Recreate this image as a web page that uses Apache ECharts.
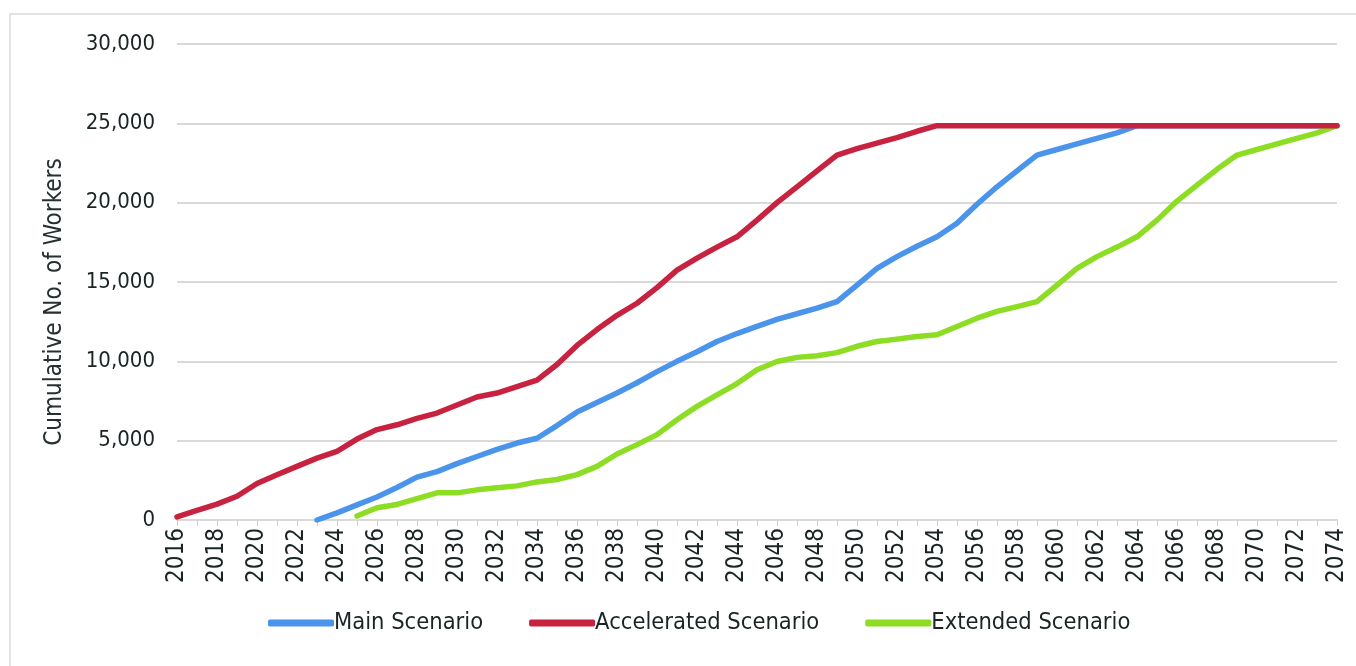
<!DOCTYPE html>
<html>
<head>
<meta charset="utf-8">
<title>Cumulative No. of Workers</title>
<script src="https://cdn.jsdelivr.net/npm/echarts@6/dist/echarts.min.js"></script>
<style>
  html, body { margin: 0; padding: 0; background: #fff; }
  #chart { width: 1356px; height: 666px; }
</style>
</head>
<body>
<div id="chart"></div>
<script>
// years on the x axis, 2016 - 2074
const years = []
for (let y = 2016; y <= 2074; y++) years.push(String(y))

const yTicks = [0, 5000, 10000, 15000, 20000, 25000, 30000]

// Main Scenario starts in 2023
const mainScenario = [
  null, null, null, null, null, null, null,
  0, 450, 950, 1450, 2050, 2700, 3050, 3550, 4000, 4450,
  4850, 5150, 5950, 6800, 7400, 8000, 8650, 9350, 10000, 10600,
  11250, 11750, 12200, 12650, 13000, 13350, 13760, 14800, 15860, 16600,
  17250, 17850, 18700, 19900, 21000, 22000, 23000, 23350, 23700, 24050,
  24400, 24850, 24850, 24850, 24850, 24850, 24850, 24850, 24850, 24850,
  24850, 24850
]

// Accelerated Scenario starts in 2016
const acceleratedScenario = [
  200, 600, 1000, 1500, 2300, 2850, 3380, 3900, 4330, 5100,
  5700, 6000, 6400, 6740, 7250, 7750, 8000, 8400, 8820, 9800,
  11000, 12000, 12900, 13660, 14650, 15750, 16500, 17200, 17850, 18900,
  20000, 21000, 22000, 23000, 23400, 23750, 24100, 24500, 24850, 24850,
  24850, 24850, 24850, 24850, 24850, 24850, 24850, 24850, 24850, 24850,
  24850, 24850, 24850, 24850, 24850, 24850, 24850, 24850, 24850
]

// Extended Scenario starts in 2025
const extendedScenario = [
  null, null, null, null, null, null, null, null, null,
  250, 770, 980, 1350, 1710, 1710, 1900, 2030, 2150, 2400,
  2550, 2860, 3380, 4160, 4750, 5380, 6320, 7160, 7890, 8600,
  9470, 9990, 10250, 10350, 10550, 10950, 11250, 11400, 11560, 11670,
  12200, 12720, 13150, 13450, 13760, 14800, 15860, 16600, 17200, 17850,
  18900, 20100, 21100, 22100, 23000, 23350, 23700, 24050, 24400, 24850
]

const seriesNames = ['Main Scenario', 'Accelerated Scenario', 'Extended Scenario']
const seriesColors = ['#4a94ec', '#c7223f', '#8ddd24']

const FONT = "'DejaVu Sans Condensed', 'Liberation Sans', sans-serif"
const TEXT_COLOR = '#1a2424'

const chart = echarts.init(document.getElementById('chart'))

const seriesData = [mainScenario, acceleratedScenario, extendedScenario]
const series = seriesData.map((data, i) => {
  return {
    name: seriesNames[i],
    type: 'line',
    data: data,
    showSymbol: false,
    symbol: 'none',
    lineStyle: { color: seriesColors[i], width: 5.5, cap: 'round', join: 'round' },
    itemStyle: { color: seriesColors[i] },
    z: i === 1 ? 3 : 2
  }
})

chart.setOption({
  animation: false,
  textStyle: { fontFamily: FONT },
  graphic: [{
    type: 'rect',
    silent: true,
    shape: { x: 10, y: 14, width: 1360, height: 670 },
    style: { fill: 'none', stroke: '#e2e2e2', lineWidth: 2 }
  }],
  grid: {
    left: 177,
    right: 19,
    top: 44,
    bottom: 146
  },
  legend: {
    data: seriesNames,
    bottom: 26,
    left: 263,
    icon: 'roundRect',
    itemWidth: 66,
    itemHeight: 7,
    itemGap: 46,
    textStyle: { fontFamily: FONT, fontSize: 23.5, color: TEXT_COLOR, padding: [0, 0, 0, -5] }
  },
  xAxis: {
    type: 'category',
    data: years,
    boundaryGap: false,
    axisLine: { lineStyle: { color: '#d9d9d9', width: 2 } },
    axisTick: { show: true, interval: 0, length: 6, lineStyle: { color: '#cfcfcf' } },
    axisLabel: {
      interval: 1,
      rotate: 90,
      margin: 8,
      fontFamily: FONT,
      fontSize: 24,
      color: TEXT_COLOR
    },
    splitLine: { show: false }
  },
  yAxis: {
    type: 'value',
    min: yTicks[0],
    max: yTicks[yTicks.length - 1],
    interval: 5000,
    name: 'Cumulative No. of Workers',
    nameLocation: 'middle',
    nameGap: 110,
    nameRotate: 90,
    // the title sits a little below the middle of the axis
    nameTextStyle: { fontFamily: FONT, fontSize: 24, color: '#263030', padding: [0, 40, 0, 0] },
    axisLine: { show: false },
    axisTick: { show: false },
    axisLabel: {
      margin: 22,
      fontFamily: FONT,
      fontSize: 22,
      color: TEXT_COLOR,
      formatter: v => v.toLocaleString('en-US')
    },
    splitLine: { lineStyle: { color: '#d9d9d9', width: 2 } }
  },
  series: series
})
</script>
</body>
</html>
